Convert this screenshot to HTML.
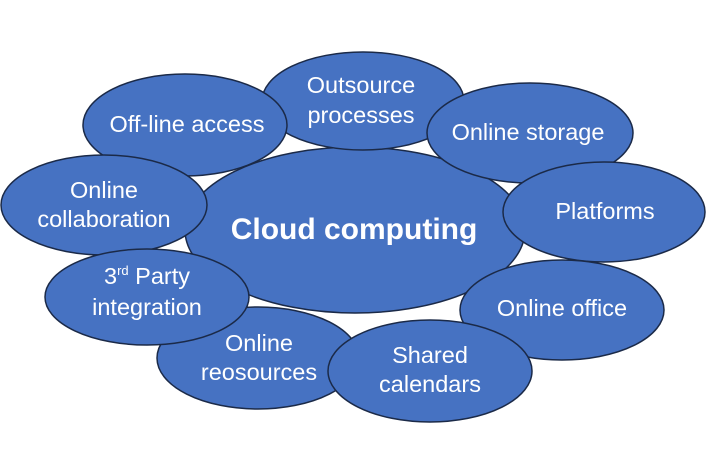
<!DOCTYPE html>
<html><head><style>
html,body{margin:0;padding:0;background:#fff;}
svg{display:block;}
text{font-family:"Liberation Sans",Arial,sans-serif;fill:#fff;font-size:23.5px;text-anchor:middle;}
ellipse{fill:#4672c2;stroke:#1b2a48;stroke-width:1.5;}
</style></head><body>
<svg width="710" height="472" viewBox="0 0 710 472" xmlns="http://www.w3.org/2000/svg">
<ellipse cx="355" cy="230" rx="170" ry="83"/>
<ellipse cx="363" cy="101" rx="101" ry="49"/>
<ellipse cx="530" cy="133" rx="103" ry="50"/>
<ellipse cx="185" cy="125" rx="102" ry="51"/>
<ellipse cx="104" cy="205" rx="103" ry="50"/>
<ellipse cx="258" cy="358" rx="101" ry="51"/>
<ellipse cx="147" cy="297" rx="102" ry="48"/>
<ellipse cx="604" cy="212" rx="101" ry="50"/>
<ellipse cx="562" cy="310" rx="102" ry="50"/>
<ellipse cx="430" cy="371" rx="102" ry="51"/>
<text x="354" y="239" style="font-weight:bold;font-size:30px">Cloud computing</text>
<text x="361" y="93">Outsource</text>
<text x="361" y="123">processes</text>
<text x="528" y="140">Online storage</text>
<text x="187" y="132">Off-line access</text>
<text x="104" y="198">Online</text>
<text x="104" y="227">collaboration</text>
<text x="605" y="219">Platforms</text>
<text x="147" y="284">3<tspan style="font-size:13px" dy="-9">rd</tspan><tspan dy="9"> Party</tspan></text>
<text x="147" y="315">integration</text>
<text x="562" y="316">Online office</text>
<text x="259" y="351">Online</text>
<text x="259" y="380">reosources</text>
<text x="430" y="363">Shared</text>
<text x="430" y="392">calendars</text>
</svg>
</body></html>
